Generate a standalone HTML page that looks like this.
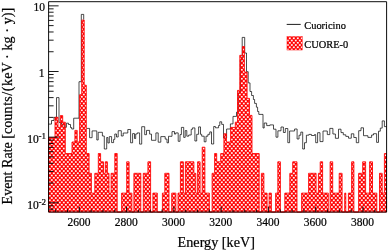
<!DOCTYPE html>
<html><head><meta charset="utf-8"><title>Energy spectrum</title>
<style>
html,body{margin:0;padding:0;background:#fff}
body{width:388px;height:250px;overflow:hidden}
svg{display:block;will-change:transform}
text{font-family:"Liberation Serif","DejaVu Serif",serif;fill:#000;stroke:#000;stroke-width:0.22px}
</style></head><body>
<svg width="388" height="250" viewBox="0 0 388 250">
<defs>
<pattern id="chk" x="0" y="0" width="4" height="9" patternUnits="userSpaceOnUse"><g fill="#f00" shape-rendering="crispEdges"><rect x="0" y="0" width="1" height="1" fill-opacity="0.38"/><rect x="1" y="0" width="1" height="1" fill-opacity="1.00"/><rect x="2" y="0" width="1" height="1" fill-opacity="0.90"/><rect x="3" y="0" width="1" height="1" fill-opacity="0.17"/><rect x="0" y="1" width="1" height="1" fill-opacity="0.93"/><rect x="1" y="1" width="1" height="1" fill-opacity="0.47"/><rect x="2" y="1" width="1" height="1" fill-opacity="0.60"/><rect x="3" y="1" width="1" height="1" fill-opacity="1.00"/><rect x="0" y="2" width="1" height="1" fill-opacity="0.88"/><rect x="1" y="2" width="1" height="1" fill-opacity="0.05"/><rect x="2" y="2" width="1" height="1" fill-opacity="0.29"/><rect x="3" y="2" width="1" height="1" fill-opacity="1.00"/><rect x="0" y="3" width="1" height="1" fill-opacity="0.76"/><rect x="1" y="3" width="1" height="1" fill-opacity="0.88"/><rect x="2" y="3" width="1" height="1" fill-opacity="0.87"/><rect x="3" y="3" width="1" height="1" fill-opacity="0.70"/><rect x="0" y="4" width="1" height="1" fill-opacity="0.29"/><rect x="1" y="4" width="1" height="1" fill-opacity="1.00"/><rect x="2" y="4" width="1" height="1" fill-opacity="0.88"/><rect x="3" y="4" width="1" height="1" fill-opacity="0.05"/><rect x="0" y="5" width="1" height="1" fill-opacity="0.73"/><rect x="1" y="5" width="1" height="1" fill-opacity="0.94"/><rect x="2" y="5" width="1" height="1" fill-opacity="0.91"/><rect x="3" y="5" width="1" height="1" fill-opacity="0.64"/><rect x="0" y="6" width="1" height="1" fill-opacity="0.88"/><rect x="1" y="6" width="1" height="1" fill-opacity="0.05"/><rect x="2" y="6" width="1" height="1" fill-opacity="0.29"/><rect x="3" y="6" width="1" height="1" fill-opacity="1.00"/><rect x="0" y="7" width="1" height="1" fill-opacity="0.93"/><rect x="1" y="7" width="1" height="1" fill-opacity="0.41"/><rect x="2" y="7" width="1" height="1" fill-opacity="0.55"/><rect x="3" y="7" width="1" height="1" fill-opacity="1.00"/><rect x="0" y="8" width="1" height="1" fill-opacity="0.42"/><rect x="1" y="8" width="1" height="1" fill-opacity="1.00"/><rect x="2" y="8" width="1" height="1" fill-opacity="0.90"/><rect x="3" y="8" width="1" height="1" fill-opacity="0.23"/></g></pattern>
</defs>
<rect width="388" height="250" fill="#fff"/>
<path d="M48.5 124.1V124.1H51.5V120.5H54V117.4H56.5V97.6H59V122.4H61.5V124.4H64.3V127.3H66.4V123.2H68.5V124.5H70.5V127.5H71.7V129H73.7V118.2H79V81.7H81.3V14.4H83.7V19.7M86.7 128.4V128.4H89.6V137.7H92.1V130.9H96.8V140H98.2V132.3H102.4V136H104.3V149H106.7V137.5H107.9V143H109.3V136.6H111.6V142.6H113.6V139.4H114.8V134H116.5V137H118.2V130.7H121.3V136H123.2V133H127.8V129.5H130.6V142.8H132.6V133.6H134.5V138.5H135.7V134H137.2V132.9H139.6V144.1H141.7V126.7H144.7V134.7H146.5V130.4H149.6V134.1H151.5V140.3H155.9V132.9H158.2V142.2H160.8V136.6H165.2V139.1H167V142.8H168.5V136.3H172V131.6H174.5V134.1H175.7V132.9H178.2V141.3H180V134.6H181.4V127.4H183.7V137.4H185.2V130.6H186.8V136.2H188.7V135H191.2V129.4H192.4V127.9H194.9V141H196.7V134.3H198.6V126.9H200.5V134.3H201.7V136.2H204.2V141.8H206V136.2H207.9V134.3H209.8V131.9H211.5V144H213.7V126.5H215.4V127.8H218.6V125.5H219.8V121.8H221.7V124.4H223.5V138H226.6V129H230.4V123.9H233V116.4H236.5V112.2H238.3V93H240.4V60H242.2V37.4H244.7V53H246.5V71.7H248.2V82.9H250V91.5H251.6V95.5H253.4V99.5H254.6V103.4H256.4V107.2H257.6V111.5H258.8V114.4H263V128H264.2V123H266.7V125.6H269.8V124.9H273.5V129.2H276V137.2H277.9V130.8H281V127H283.4V132.5H285.3V128.5H287.8V142.7H289.6V131H294.6V129H297.1V139H299V135.2H300.8V132.1H302.7V149H304.5V142.7H306.4V135.2H308.9V134.4H311.4V135.5H314.5V134.6H315.7V142.7H317.6V132.7H320V141.6H323V131H327.3V134.6H329.8V128.4H332.9V134H335.4V138.3H338.5V129.2H341V132.6H343.3V134.8H345.8V136.4H348.5V138.2H351.3V133.8H353.8V137.5H356.3V142.7H358.7V130.7H361V127.8H363.5V135.7H367.9V137.4H371.6V135H373.5V133.7H376.6V142.4H378.5V131.2H380.3V128.1H382.2V120.9H384.4V126.6H386.5" fill="none" stroke="#000" stroke-width="0.7" stroke-linejoin="miter"/>
<path d="M48.5 212V137.6H55.00V117.3H58.00V127.4H60.40V115.6H62.70V122.2H65.30V153.5H72.00V142H74.90V130.4H77.20V142H79.60V94.7H81.70V20.1H84.20V85.2H86.30V153.5H89.10V173.3H91.40V193.1H94.80V173.3H98.30V153.5H100.60V161.8H103.50V173.3H105.30V161.8H107.40V173.3H109.00V193.1H111.10V173.3H114.80V153.5H117.20V212H121.60V193.1H126.70V161.8H129.10V193.1H131.90V212H133.90V173.3H140.80V212H143.30V173.3H147.90V161.8H150.60V212H152.90V193.1H157.30V212H162.40V193.1H164.80V173.3H169.00V212H171.70V193.1H175.90V212H178.00V193.1H180.40V161.8H183.40V193.1H185.40V161.8H193.90V173.3H195.80V193.1H197.60V161.8H200.10V193.1H202.20V147.2H204.90V193.1H209.40V212H212.10V173.3H214.60V153.5H216.70V161.8H220.70V153.5H223.90V133.8H226.40V142H230.60V127.4H235.30V122.2H237.50V90.4H239.80V55.3H242.40V46.6H244.40V72.1H247.10V98.4H249.50V115.4H252.00V153.5H259.20V212H261.40V173.3H263.90V193.1H267.10V212H269.10V193.1H271.40V212H275.60V193.1H277.80V161.8H280.40V212H284.80V193.1H289.80V173.3H292.70V161.8H297.00V212H301.60V193.1H308.60V173.3H316.10V193.1H318.40V173.3H320.20V161.8H322.60V193.1H328.30V212H330.10V161.8H332.70V193.1H339.20V173.3H342.10V212H344.70V193.1H345.80V212H348.40V193.1H351.60V161.8H353.90V212H358.60V173.3H362.70V161.8H365.60V193.1H369.60V161.8H372.50V193.1H376.80V212H379.50V173.3H382.20V193.1H384.40V153.5H386.50V212Z" fill="url(#chk)" stroke="#f00" stroke-width="0.85" stroke-linejoin="miter"/>
<path d="M48.6 209.16h5M48.6 205.80h5M48.6 202.80h10M48.6 183.04h5M48.6 171.48h5M48.6 163.27h5M48.6 156.91h5M48.6 151.71h5M48.6 147.32h5M48.6 143.51h5M48.6 140.15h5M48.6 137.15h10M48.6 117.39h5M48.6 105.83h5M48.6 97.62h5M48.6 91.26h5M48.6 86.06h5M48.6 81.67h5M48.6 77.86h5M48.6 74.50h5M48.6 71.50h10M48.6 51.74h5M48.6 40.18h5M48.6 31.97h5M48.6 25.61h5M48.6 20.41h5M48.6 16.02h5M48.6 12.21h5M48.6 8.85h5M48.6 5.85h10M55.69 212.1v-2.6M67.51 212.1v-2.6M79.33 212.1v-5.5M91.15 212.1v-2.6M102.97 212.1v-2.6M114.79 212.1v-2.6M126.61 212.1v-5.5M138.43 212.1v-2.6M150.25 212.1v-2.6M162.07 212.1v-2.6M173.89 212.1v-5.5M185.71 212.1v-2.6M197.53 212.1v-2.6M209.35 212.1v-2.6M221.17 212.1v-5.5M232.99 212.1v-2.6M244.81 212.1v-2.6M256.63 212.1v-2.6M268.45 212.1v-5.5M280.27 212.1v-2.6M292.09 212.1v-2.6M303.91 212.1v-2.6M315.73 212.1v-5.5M327.55 212.1v-2.6M339.37 212.1v-2.6M351.19 212.1v-2.6M363.01 212.1v-5.5M374.83 212.1v-2.6" fill="none" stroke="#000" stroke-width="0.9"/>
<path d="M48.6 1.7H386.6V212.1H48.6Z" fill="none" stroke="#000" stroke-width="0.95"/>
<g opacity="0.99"><g font-size="11.5"><text x="78.9" y="226" text-anchor="middle">2600</text><text x="126.2" y="226" text-anchor="middle">2800</text><text x="173.5" y="226" text-anchor="middle">3000</text><text x="220.8" y="226" text-anchor="middle">3200</text><text x="268.1" y="226" text-anchor="middle">3400</text><text x="315.3" y="226" text-anchor="middle">3600</text><text x="362.6" y="226" text-anchor="middle">3800</text>
<text x="45" y="10.8" text-anchor="end">10</text>
<text x="44.6" y="76.5" text-anchor="end">1</text>
<text x="38.8" y="142.9" text-anchor="end">10</text><text x="38.6" y="138.9" font-size="9">-1</text>
<text x="38.8" y="208.6" text-anchor="end">10</text><text x="38.6" y="204.6" font-size="9">-2</text>
</g>
<text x="177.6" y="246.6" font-size="14.2">Energy [keV]</text>
<text transform="translate(12.4 204.4) rotate(-90)" font-size="14.1">Event Rate [coun<tspan dx="0.8">t</tspan><tspan letter-spacing="0.6">s/(</tspan><tspan letter-spacing="0.07">keV · kg · y)]</tspan></text>
<path d="M286.7 24.4H300.7" stroke="#000" stroke-width="0.9"/>
<text x="304.3" y="28.9" font-size="10.4">Cuoricino</text>
<rect x="287" y="36.6" width="15.2" height="13.4" fill="url(#chk)" stroke="#f00" stroke-width="0.5"/>
<text x="304.3" y="48.1" font-size="10.4">CUORE-0</text></g>
</svg>
</body></html>
